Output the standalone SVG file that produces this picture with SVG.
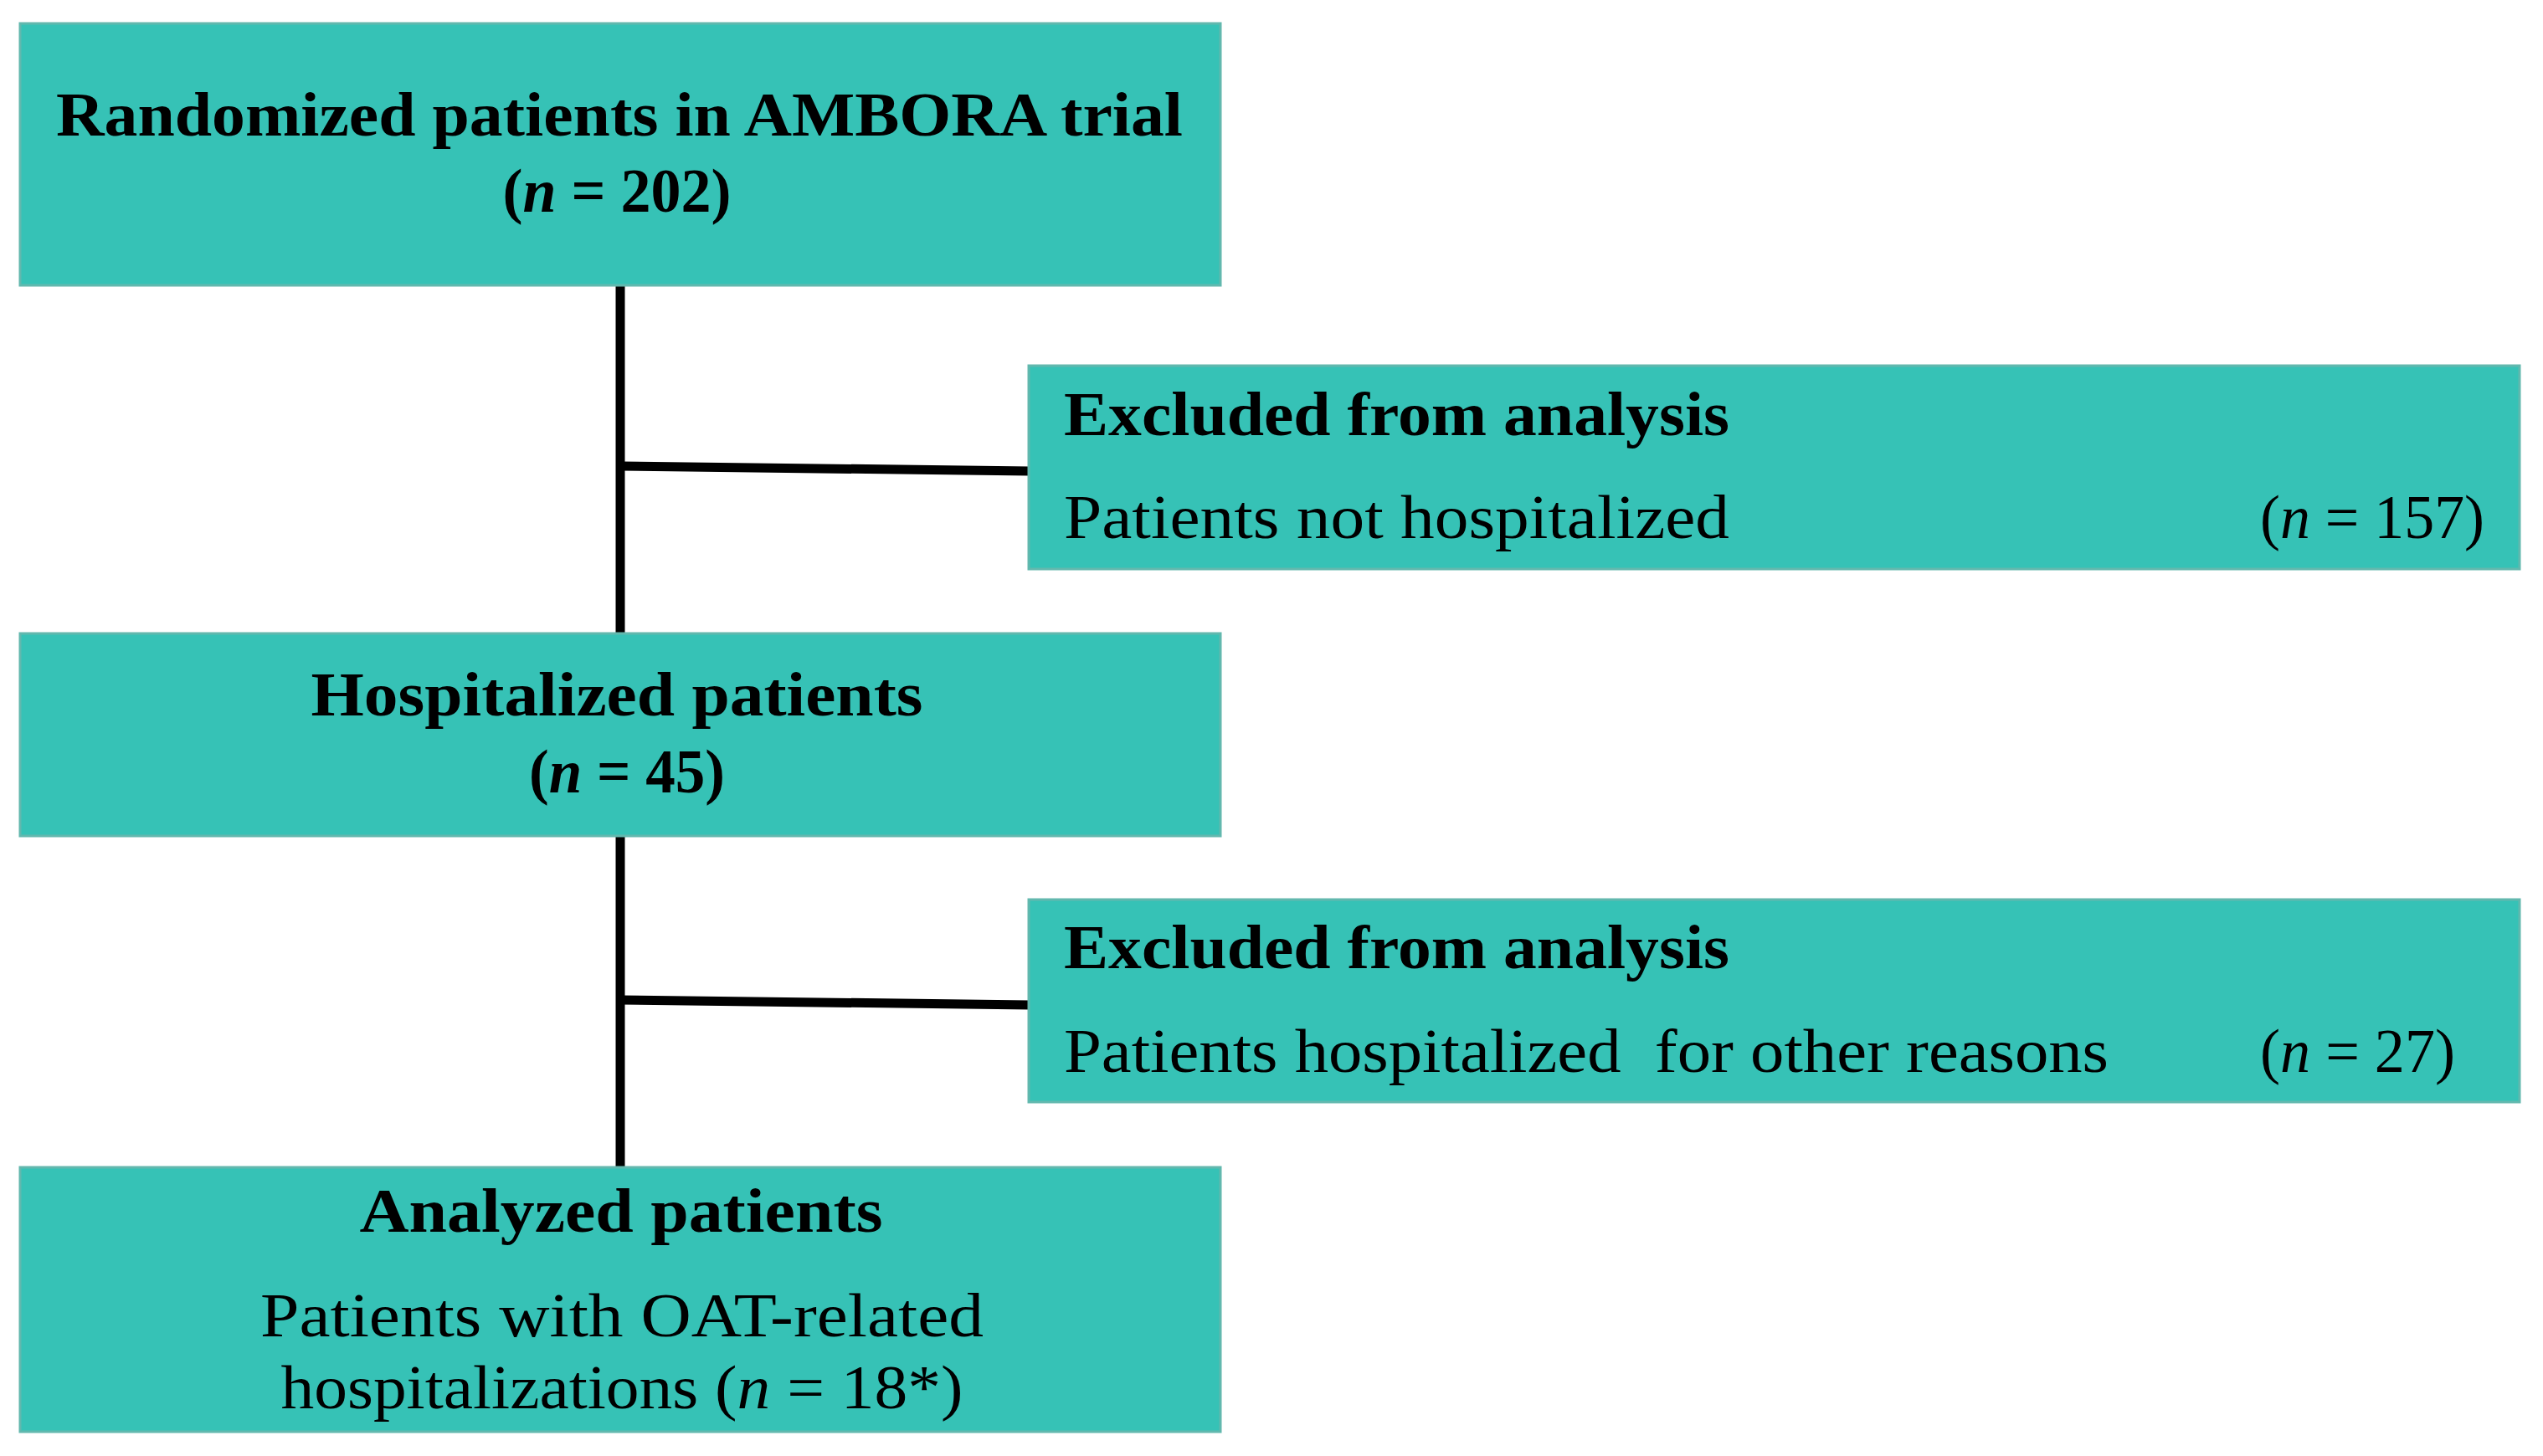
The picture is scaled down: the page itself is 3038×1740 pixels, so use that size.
<svg xmlns="http://www.w3.org/2000/svg" width="3038" height="1740" viewBox="0 0 3038 1740">
<style>
.box{fill:#36c2b6;stroke:#62b8ae;stroke-width:3}
.t{font-family:"Liberation Serif","Times New Roman",serif;font-size:75px;fill:#000}
.b{font-weight:bold}
.c{text-anchor:middle}
.i{font-style:italic}
.ln{stroke:#000;stroke-width:11;fill:none}
</style>
<rect width="3038" height="1740" fill="#fff"/>
<g id="connectors">
<line class="ln" x1="741" y1="341" x2="741" y2="757"/>
<line class="ln" x1="741" y1="999" x2="741" y2="1395"/>
<line class="ln" x1="741" y1="557" x2="1230" y2="563"/>
<line class="ln" x1="741" y1="1195" x2="1230" y2="1201"/>
</g>
<g id="randomized">
<rect class="box" x="24" y="28" width="1434" height="313"/>
<text class="t b c" x="740" y="162" textLength="1346" lengthAdjust="spacingAndGlyphs">Randomized patients in AMBORA trial</text>
<text class="t b c" x="737" y="253" textLength="273" lengthAdjust="spacingAndGlyphs">(<tspan class="i">n</tspan> = 202)</text>
</g>
<g id="excluded1">
<rect class="box" x="1229" y="437" width="1781" height="243"/>
<text class="t b" x="1271" y="520" textLength="795" lengthAdjust="spacingAndGlyphs">Excluded from analysis</text>
<text class="t" x="1271" y="643" textLength="795" lengthAdjust="spacingAndGlyphs">Patients not hospitalized</text>
<text class="t" x="2700" y="643" textLength="268" lengthAdjust="spacingAndGlyphs">(<tspan class="i">n</tspan> = 157)</text>
</g>
<g id="hospitalized">
<rect class="box" x="24" y="757" width="1434" height="242"/>
<text class="t b c" x="737" y="855" textLength="731" lengthAdjust="spacingAndGlyphs">Hospitalized patients</text>
<text class="t b c" x="749" y="947" textLength="234" lengthAdjust="spacingAndGlyphs">(<tspan class="i">n</tspan> = 45)</text>
</g>
<g id="excluded2">
<rect class="box" x="1229" y="1075" width="1781" height="242"/>
<text class="t b" x="1271" y="1157" textLength="795" lengthAdjust="spacingAndGlyphs">Excluded from analysis</text>
<text class="t" x="1271" y="1281" textLength="1248" lengthAdjust="spacingAndGlyphs" xml:space="preserve">Patients hospitalized  for other reasons</text>
<text class="t" x="2700" y="1281" textLength="233" lengthAdjust="spacingAndGlyphs">(<tspan class="i">n</tspan> = 27)</text>
</g>
<g id="analyzed">
<rect class="box" x="24" y="1395" width="1434" height="316"/>
<text class="t b c" x="742" y="1472" textLength="625" lengthAdjust="spacingAndGlyphs">Analyzed patients</text>
<text class="t c" x="743" y="1597" textLength="864" lengthAdjust="spacingAndGlyphs">Patients with OAT-related</text>
<text class="t c" x="743" y="1683" textLength="815" lengthAdjust="spacingAndGlyphs">hospitalizations (<tspan class="i">n</tspan> = 18*)</text>
</g>
</svg>
